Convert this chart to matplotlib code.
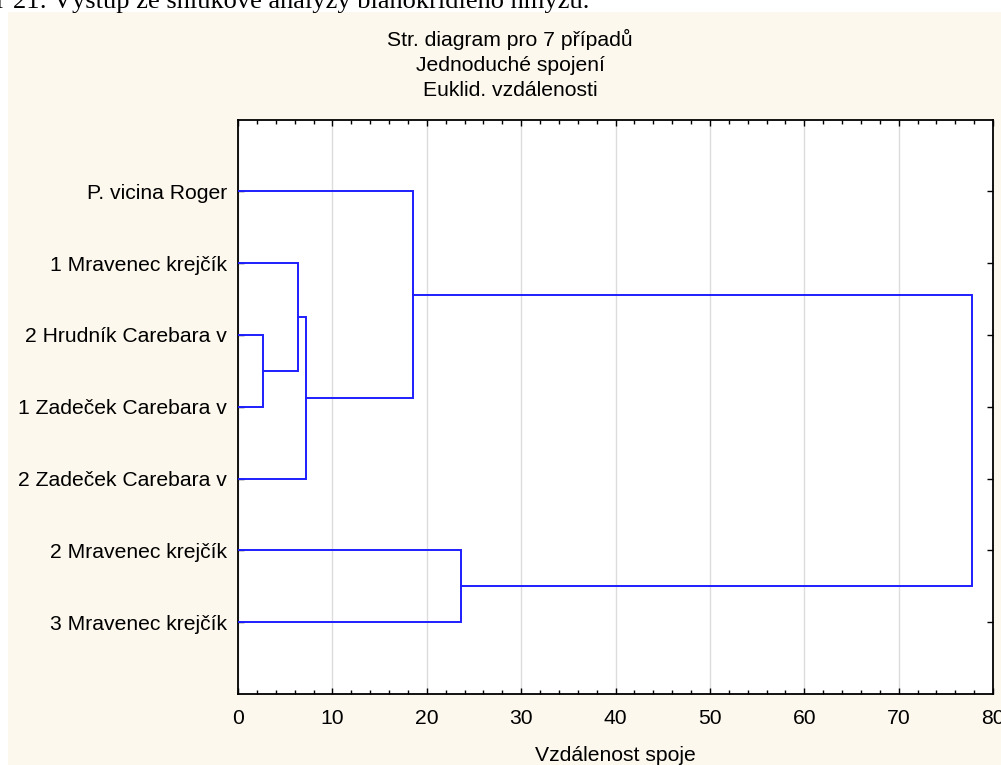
import matplotlib.pyplot as plt
from matplotlib.patches import Rectangle
from matplotlib.ticker import MultipleLocator

plt.rcParams['font.family'] = ['Liberation Sans', 'DejaVu Sans']

labels = ["P. vicina Roger", "1 Mravenec krejčík", "2 Hrudník Carebara v",
          "1 Zadeček Carebara v", "2 Zadeček Carebara v",
          "2 Mravenec krejčík", "3 Mravenec krejčík"]
# merges: ids 0-6 are leaves, 7+ are earlier merges in order
merge_first = [2, 1, 8, 0, 5, 10]
merge_second = [3, 7, 4, 9, 6, 11]
merge_dist = [2.65, 6.4, 7.2, 18.5, 23.6, 77.8]

title_lines = ["Str. diagram pro 7 případů", "Jednoduché spojení", "Euklid. vzdálenosti"]
caption = "21: Výstup ze shlukové analýzy blanokřídlého hmyzu."

W, H = 1001, 765
fs = 15.2
fig = plt.figure(figsize=(W / 100, H / 100), dpi=100)
fig.patch.set_facecolor('white')
fig.patches.append(Rectangle((8 / W, 0), (W - 8) / W, (H - 12) / H,
                             transform=fig.transFigure, facecolor='#fdf8ed',
                             edgecolor='none', zorder=-10))

ax = fig.add_axes([238 / W, 1 - 694 / H, (993 - 238) / W, (694 - 119.5) / H])
ax.set_facecolor('white')

ypos = {i: i + 1 for i in range(len(labels))}
xpos = {i: 0.0 for i in range(len(labels))}
blue = '#1e1eff'
for k, (a, b, d) in enumerate(zip(merge_first, merge_second, merge_dist)):
    ax.plot([xpos[a], d, d, xpos[b]], [ypos[a], ypos[a], ypos[b], ypos[b]],
            color=blue, lw=1.4, solid_joinstyle='miter', zorder=3)
    node = len(labels) + k
    ypos[node] = (ypos[a] + ypos[b]) / 2
    xpos[node] = d

ax.set_xlim(0, 80)
ax.set_ylim(len(labels) + 1, 0)
ax.xaxis.set_major_locator(MultipleLocator(10))
ax.xaxis.set_minor_locator(MultipleLocator(2))
ax.set_yticks(range(1, len(labels) + 1))
ax.set_yticklabels(labels)
ax.tick_params(axis='x', which='both', direction='in', top=True, bottom=True,
               labelsize=fs, pad=11, width=1)
ax.tick_params(axis='x', which='major', length=4)
ax.tick_params(axis='x', which='minor', length=3)
ax.tick_params(axis='y', direction='in', left=True, right=True,
               labelsize=fs, pad=8, length=4, width=1)
ax.grid(axis='x', which='major', color='#dcdcdc', lw=1)
ax.set_axisbelow(True)
for s in ax.spines.values():
    s.set_linewidth(1.3)
ax.set_xlabel("Vzdálenost spoje", fontsize=fs, labelpad=13)

for i, line in enumerate(title_lines):
    fig.text(510 / W, 1 - (46 + 25 * i) / H, line, ha='center', va='baseline',
             fontsize=fs)

fig.text(6 / W, 1 - 8 / H, "Obr", ha='right', va='baseline', fontsize=19,
         family='Liberation Serif')
fig.text(13 / W, 1 - 8 / H, caption, ha='left', va='baseline', fontsize=19,
         family='Liberation Serif')

fig.savefig('out.png', dpi=100, facecolor=fig.get_facecolor())
